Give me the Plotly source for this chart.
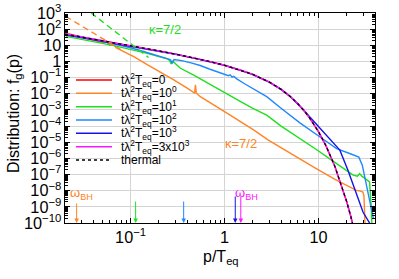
import math
import plotly.graph_objects as go

# ---------------- data ----------------
p_thermal = [0.02, 0.03, 0.05, 0.07, 0.1, 0.15, 0.2, 0.3, 0.5, 0.7, 1, 1.5, 2, 3, 4, 5, 6, 7, 8, 10, 12, 15, 18, 20, 22, 24]
f_thermal = [49.5, 32.8, 19.5, 13.8, 9.51, 6.18, 4.52, 2.86, 1.54, 0.986, 0.582, 0.287, 0.157, 0.0524, 0.0187,
             6.78e-3, 2.49e-3, 9.13e-4, 3.36e-4, 4.54e-5, 6.14e-6, 3.06e-7, 1.52e-8, 2.06e-9, 2.79e-10, 3.78e-11]

p_t0 = p_thermal
f_t0 = f_thermal

p_t1 = [0.0204, 0.03, 0.04, 0.05, 0.055, 0.06, 0.065, 0.07, 0.1, 0.108, 0.15, 0.2, 0.288, 0.4, 0.48, 0.49, 0.5,
        0.52, 0.552, 1.0, 2.0, 2.93, 5.0, 8.8, 15, 20, 25.3, 27, 29.7, 30.5, 31.5]
f_t1 = [57.5, 31.6, 20.0, 15.1, 17.8, 10.0, 12.6, 7.08, 2.51, 2.0, 0.631, 0.251, 0.0724, 0.0224, 0.0112, 0.0355,
        0.0112, 8.91e-3, 6.61e-3, 7.94e-4, 6.31e-5, 1.35e-5, 2.0e-6, 2.95e-7, 5.01e-8, 2.0e-8, 1.05e-8, 1.0e-8,
        8.32e-9, 5.01e-9, 3.16e-11]

p_t10 = [0.0204, 0.03, 0.05, 0.07, 0.1, 0.15, 0.2, 0.25, 0.26, 0.27, 0.28, 0.339, 0.47, 0.55, 0.705, 1.0, 1.5,
         2.0, 2.81, 4.0, 6.35, 9.5, 13.8, 18, 23.4, 26, 27.4, 29, 32, 35, 36.5, 37.5]
f_t10 = [35.5, 24.0, 13.2, 8.91, 5.62, 3.16, 2.0, 1.41, 1.12, 0.708, 1.05, 0.380, 0.141, 0.0832, 0.0355, 0.0112,
         3.16e-3, 1.26e-3, 4.79e-4, 1.0e-4, 1.78e-5, 3.55e-6, 7.76e-7, 2.51e-7, 9.12e-8, 7.94e-8, 1.15e-7,
         7.94e-8, 5.01e-8, 3.47e-8, 1.0e-9, 1.0e-11]

p_t100 = [0.0204, 0.03, 0.04, 0.05, 0.07, 0.1, 0.14, 0.2, 0.25, 0.266, 0.277, 0.29, 0.35, 0.45, 0.55, 0.7, 0.9,
          1.1, 1.15, 1.2, 1.25, 1.35, 1.6, 2.0, 2.81, 4.0, 6.34, 10.3, 15.6, 21.5, 26.9, 29.3, 31.6, 34.0, 38.4]
f_t100 = [44.7, 31.6, 24.0, 17.8, 12.0, 7.08, 3.98, 2.24, 1.45, 1.26, 0.759, 1.32, 1.12, 0.794, 0.562, 0.331,
          0.191, 0.132, 0.148, 0.107, 0.120, 0.0832, 0.0447, 0.0200, 6.61e-3, 1.26e-3, 1.58e-4, 2.19e-5,
          4.07e-6, 2.0e-6, 1.2e-6, 3.8e-7, 4.47e-8, 5.13e-9, 1.95e-10]

p_t1000 = [0.02, 0.03, 0.05, 0.07, 0.1, 0.15, 0.2, 0.3, 0.5, 0.7, 1, 1.5, 2, 3, 4, 5, 6, 7, 8, 10, 12, 14.5,
           16.9, 20.6, 25.4, 29.8, 35, 37]
f_t1000 = [45.0, 30.0, 18.0, 12.8, 9.0, 5.9, 4.35, 2.78, 1.50, 0.97, 0.575, 0.284, 0.155, 0.0520, 0.0185,
           6.75e-3, 2.48e-3, 9.5e-4, 3.9e-4, 9.3e-5, 2.9e-5, 8.5e-6, 3.24e-6, 1.86e-7, 6.6e-9, 4.8e-10,
           1.0e-10, 3.0e-11]

p_t3000 = p_thermal
f_t3000 = [52.0, 34.0, 20.0, 14.0, 9.6, 6.2, 4.53, 2.86, 1.54, 0.986, 0.582, 0.287, 0.157, 0.0524, 0.0187,
           6.78e-3, 2.49e-3, 9.13e-4, 3.36e-4, 4.54e-5, 6.14e-6, 3.06e-7, 1.52e-8, 2.06e-9, 2.79e-10, 3.78e-11]

# kappa = 7/2 guide lines
p_kappa_orange = [0.0204, 0.078]
f_kappa_orange = [616, 5.6]
p_kappa_green = [0.038, 0.155]
f_kappa_green = [1000, 1.77]

# omega_BH arrow positions
arrow_p = [0.0266, 0.113, 0.367, 1.30, 1.49]

series_names = ["tλ<sup>2</sup>T<sub>eq</sub>=0", "tλ<sup>2</sup>T<sub>eq</sub>=10<sup>0</sup>",
                "tλ<sup>2</sup>T<sub>eq</sub>=10<sup>1</sup>", "tλ<sup>2</sup>T<sub>eq</sub>=10<sup>2</sup>",
                "tλ<sup>2</sup>T<sub>eq</sub>=10<sup>3</sup>", "tλ<sup>2</sup>T<sub>eq</sub>=3x10<sup>3</sup>",
                "thermal"]

# ---------------- styling ----------------
RED = "#ff0000"
ORANGE = "#ff8426"
GREEN = "#1ee01e"
LBLUE = "#1e88ff"
BLUE = "#1414e6"
MAGENTA = "#ff14ff"
FONT = "Liberation Sans, Arial, sans-serif"

# plot area in pixels
L, R, T, B = 65, 375, 13, 223
W, H = 399, 279
PW, PH = R - L, B - T


def px_x(x):
    return (x - L) / PW


def px_y(y):
    return (B - y) / PH


fig = go.Figure()

series = [
    (p_t0, f_t0, RED, "solid"),
    (p_t1, f_t1, ORANGE, "solid"),
    (p_t10, f_t10, GREEN, "solid"),
    (p_t100, f_t100, LBLUE, "solid"),
    (p_t1000, f_t1000, BLUE, "solid"),
    (p_t3000, f_t3000, MAGENTA, "solid"),
    (p_thermal, f_thermal, "black", "dot"),
]
for (px, fy, col, dash), name in zip(series, series_names):
    fig.add_trace(go.Scatter(x=px, y=fy, mode="lines", name=name, showlegend=False,
                             line=dict(color=col, width=1.4 if dash == "solid" else 1.3, dash=dash)))

fig.add_trace(go.Scatter(x=p_kappa_orange, y=f_kappa_orange, mode="lines", showlegend=False,
                         line=dict(color=ORANGE, width=1.4, dash="6px,4px")))
fig.add_trace(go.Scatter(x=p_kappa_green, y=f_kappa_green, mode="lines", showlegend=False,
                         line=dict(color=GREEN, width=1.4, dash="6px,4px")))

# legend (drawn by hand so that the spacing matches)
leg_y = [80, 93.3, 106.7, 120, 133.3, 146.7, 160]
for (px_, fy_, col, dash), name, yy in zip(series, series_names, leg_y):
    fig.add_shape(type="line", xref="paper", yref="paper", x0=px_x(76), x1=px_x(112),
                  y0=px_y(yy), y1=px_y(yy), line=dict(color=col, width=1.6, dash=dash))
    fig.add_annotation(xref="paper", yref="paper", x=px_x(119), y=px_y(yy), xanchor="left", yanchor="middle",
                       text=name, showarrow=False, font=dict(size=12, family=FONT, color="black"))

arrow_cols = [ORANGE, GREEN, LBLUE, BLUE, MAGENTA]
arrow_len = [-21, -23, -23, -28, -28]
for xp, col, al in zip(arrow_p, arrow_cols, arrow_len):
    fig.add_annotation(x=math.log10(xp), y=-10, xref="x", yref="y", text="", showarrow=True,
                       ax=0, ay=al, arrowhead=2, arrowsize=0.9, arrowwidth=1, arrowcolor=col)

fig.add_annotation(x=math.log10(0.0215), y=-8.15, xref="x", yref="y", xanchor="left", yanchor="middle",
                   text="ω<sub>BH</sub>", showarrow=False, font=dict(color=ORANGE, size=13, family=FONT))
fig.add_annotation(x=math.log10(1.22), y=-8.15, xref="x", yref="y", xanchor="left", yanchor="middle",
                   text="ω<sub>BH</sub>", showarrow=False, font=dict(color=MAGENTA, size=13, family=FONT))
fig.add_annotation(x=math.log10(0.235), y=1.96, xref="x", yref="y", text="κ=7/2", showarrow=False,
                   xanchor="center", yanchor="middle", font=dict(color=GREEN, size=13, family=FONT))
fig.add_annotation(x=math.log10(1.5), y=-5.06, xref="x", yref="y", text="κ=7/2", showarrow=False,
                   xanchor="center", yanchor="middle", font=dict(color=ORANGE, size=13, family=FONT))

# axis titles
fig.add_annotation(xref="paper", yref="paper", x=px_x(15), y=px_y(114), textangle=-90,
                   xanchor="center", yanchor="middle",
                   text="Distribution: f<sub>g</sub>(p)", showarrow=False,
                   font=dict(size=16, family=FONT, color="black"))
fig.add_annotation(xref="paper", yref="paper", x=px_x(221), y=px_y(257),
                   xanchor="center", yanchor="middle",
                   text="p/T<sub>eq</sub>", showarrow=False,
                   font=dict(size=16, family=FONT, color="black"))

# white box behind legend (above grid, below curves)
fig.add_shape(type="rect", xref="paper", yref="paper", x0=0.0, x1=px_x(208), y0=px_y(167), y1=px_y(69),
              fillcolor="white", line=dict(width=0), layer="below")

axis_common = dict(type="log", showline=True, linecolor="black", linewidth=1, mirror="allticks",
                   ticks="inside", ticklen=5, tickcolor="black", showgrid=True, gridcolor="#d4d4d4",
                   gridwidth=1, exponentformat="power", zeroline=False, automargin=False,
                   tickfont=dict(size=13, family=FONT, color="black"))

fig.update_xaxes(**axis_common, range=[math.log10(0.02), math.log10(40)], dtick=1,
                 minor=dict(ticks="inside", ticklen=3, tickcolor="black", showgrid=False))
fig.update_yaxes(**axis_common, range=[-10, 3], dtick=1,
                 minor=dict(ticks="inside", ticklen=3, tickcolor="black", showgrid=False))

fig.update_layout(
    width=W, height=H,
    margin=dict(l=L, r=W - R, t=T, b=H - B),
    paper_bgcolor="white", plot_bgcolor="white",
    font=dict(family=FONT, color="black"),
    showlegend=False,
)

fig.write_html("out.html", config={"displayModeBar": False},
               post_script="document.body.style.margin='0px';")
